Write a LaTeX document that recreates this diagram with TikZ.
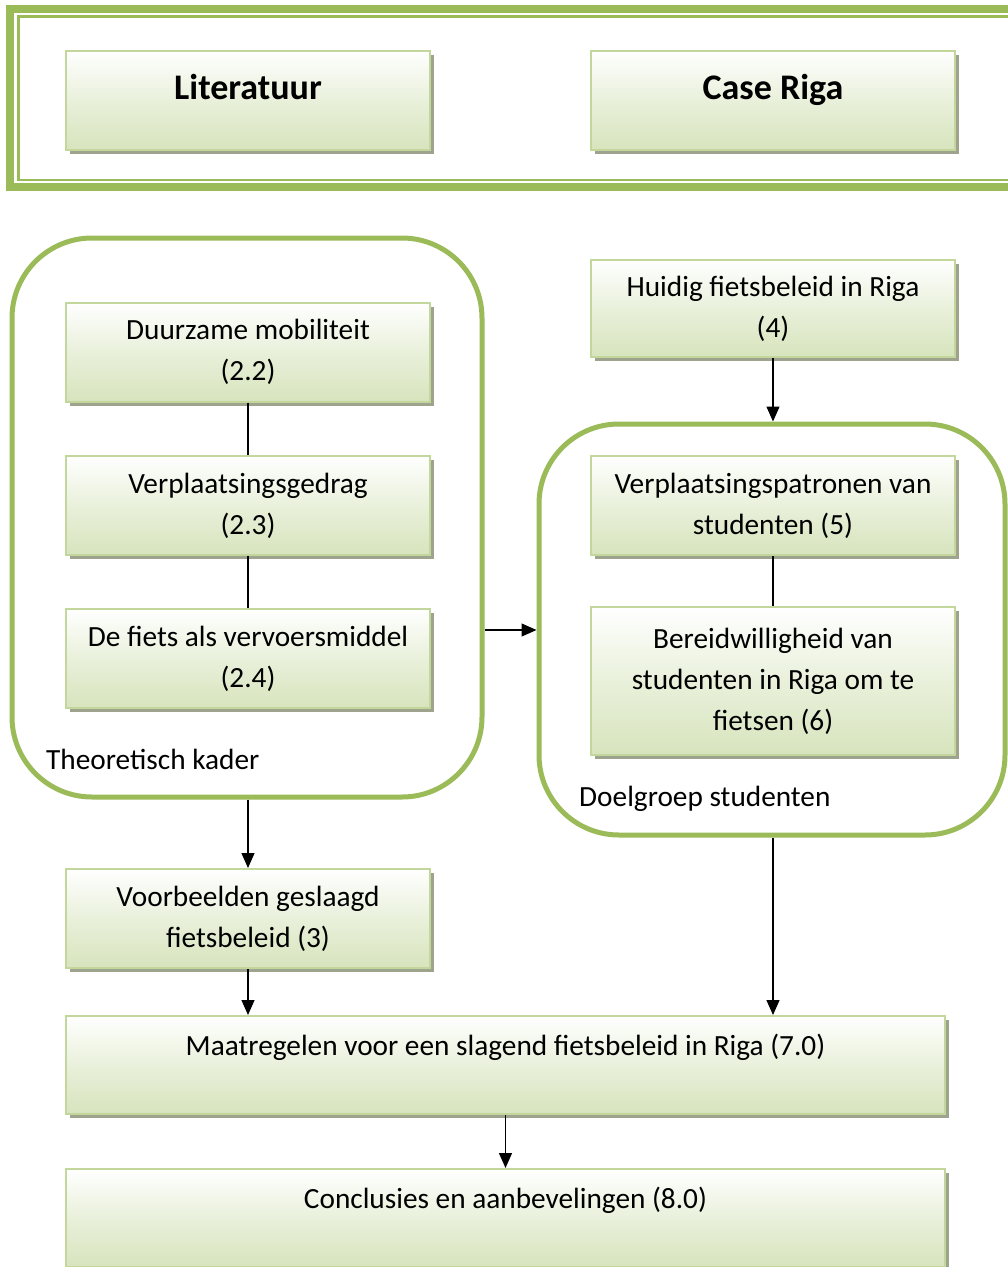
\documentclass[tikz,border=0pt]{standalone}
\usepackage{fontspec}
\setmainfont{Carlito}
\usetikzlibrary{arrows.meta,shadows}
\definecolor{framegreen}{HTML}{9BBB59}
\definecolor{boxedge}{HTML}{C3D69B}
\definecolor{boxfill}{HTML}{D7E4BD}
\definecolor{shadowgrey}{HTML}{9EA38E}
\tikzset{
  x=1pt, y=-1pt,
  stepbox/.style={draw=boxedge, line width=2pt, top color=white, bottom color=boxfill,
    middle color=boxfill!55!white, minimum width=364pt, minimum height=99pt,
    text width=340pt, align=flush center, inner sep=0pt,
    font=\fontsize{29.3}{41}\selectfont,
    drop shadow={shadow xshift=4pt, shadow yshift=-4pt, fill=shadowgrey, opacity=1}},
  headbox/.style={stepbox, font=\fontsize{36}{44}\selectfont\bfseries, text depth=27pt},
  container/.style={draw=framegreen, line width=5pt, rounded corners=80pt, inner sep=0pt},
  caption/.style={anchor=west, inner sep=0pt, font=\fontsize{29.3}{41}\selectfont},
  link/.style={line width=1.3pt},
  flow/.style={line width=1.3pt, -{Triangle[length=15pt,width=13pt]}},
}
\begin{document}
\begin{tikzpicture}
\useasboundingbox (0,0) rectangle (1008,1267);
\clip (0,0) rectangle (1008,1267);
\fill[white] (0,0) rectangle (1008,1267);

% double frame round the two headings
\draw[framegreen, line width=8pt] (10,9) rectangle (1030,187);
\draw[framegreen, line width=2.5pt] (18.5,16.5) rectangle (1030,180);

\node[headbox] (lit)  at (248,100) {Literatuur};
\node[headbox] (case) at (773,100) {Case Riga};

% theoretical framework
\node[container, minimum width=470pt, minimum height=559pt] (lcont) at (247,517.5) {};
\node[stepbox] (dm) at (248,352) {Duurzame mobiliteit\\(2.2)};
\node[stepbox] (vg) at (248,505.5) {Verplaatsingsgedrag\\(2.3)};
\node[stepbox] (fv) at (248,658.5) {De fiets als vervoersmiddel\\(2.4)};
\node[caption] (tk) at (46,759) {Theoretisch kader};

% case Riga
\node[stepbox, minimum height=97pt] (hf) at (773,308.5) {Huidig fietsbeleid in Riga\\(4)};
\node[container, minimum width=466pt, minimum height=411pt] (rcont) at (772,629.5) {};
\node[stepbox] (vp) at (773,505.5) {Verplaatsingspatronen van\\studenten (5)};
\node[stepbox, minimum height=148pt] (bw) at (773,681) {Bereidwilligheid van\\studenten in Riga om te\\fietsen (6)};
\node[caption] (ds) at (579,799) {Doelgroep studenten};

% results
\node[stepbox] (vb) at (248,918.5) {Voorbeelden geslaagd\\fietsbeleid (3)};
\node[stepbox, minimum width=879pt, minimum height=98pt, text width=860pt] (mr) at (505.5,1065) {Maatregelen voor een slagend fietsbeleid in Riga (7.0)\\\mbox{}};
\node[stepbox, minimum width=879pt, minimum height=98pt, text width=860pt] (cc) at (505.5,1218) {Conclusies en aanbevelingen (8.0)\\\mbox{}};

% connectors
\draw[link] (dm.south) -- (vg.north);
\draw[link] (vg.south) -- (fv.north);
\draw[link] (vp.south) -- (vp.south |- bw.north);
\draw[flow] (lcont.east |- 0,630) -- (rcont.west |- 0,630);
\draw[flow] (lcont.south -| vb.north) -- (vb.north);
\draw[flow] (hf.south) -- (rcont.north -| hf.south);
\draw[flow] (rcont.south -| hf.south) -- (mr.north -| hf.south);
\draw[flow] (vb.south) -- (mr.north -| vb.south);
\draw[flow] (mr.south) -- (cc.north);
\end{tikzpicture}
\end{document}
